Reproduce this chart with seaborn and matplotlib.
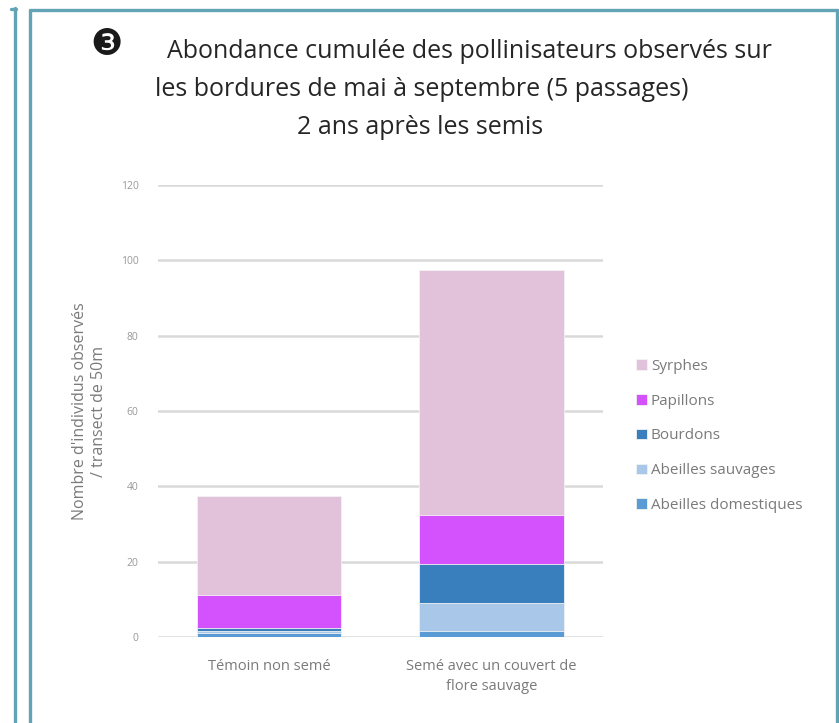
import matplotlib
matplotlib.use("Agg")
import matplotlib.pyplot as plt
import numpy as np
import pandas as pd
import seaborn as sns
from matplotlib.lines import Line2D

# data
categories = ["Témoin non semé", "Semé avec un couvert de\nflore sauvage"]
groups = ["Abeilles domestiques", "Abeilles sauvages", "Bourdons",
          "Papillons", "Syrphes"]
abeilles_domestiques = [1.0, 1.5]
abeilles_sauvages = [0.5, 7.5]
bourdons = [1.0, 10.5]
papillons = [8.6, 13.0]
syrphes = [26.4, 65.0]
colors = ["#5b9bd5", "#a9c8e9", "#3a7fbd", "#d452fe", "#e1c2da"]
title_lines = ["Abondance cumulée des pollinisateurs observés sur",
               "les bordures de mai à septembre (5 passages)",
               "2 ans après les semis"]

sns.set_theme(style="white")
plt.rcParams["font.family"] = ["Open Sans", "DejaVu Sans"]

df = pd.DataFrame(
    {
        "categorie": categories,
        groups[0]: abeilles_domestiques,
        groups[1]: abeilles_sauvages,
        groups[2]: bourdons,
        groups[3]: papillons,
        groups[4]: syrphes,
    }
)
# cumulative heights, drawn from the top series down so they stack
cum = df[groups].cumsum(axis=1)
cum["categorie"] = df["categorie"]

W, H = 839, 723
fig = plt.figure(figsize=(W / 100, H / 100), dpi=100)
ax = fig.add_axes([0.1883, 0.1189, 0.530, 0.625])

for grp, col in reversed(list(zip(groups, colors))):
    sns.barplot(data=cum, x="categorie", y=grp, color=col, width=0.65,
                saturation=1, ax=ax, label=grp, zorder=3,
                edgecolor="#f2f2f2", linewidth=0.6)

ax.set_ylim(0, 120)
ax.set_xlim(-0.5, 1.5)
ax.set_yticks(np.arange(0, 121, 20))
ax.yaxis.grid(True, color="#d9d9d9", linewidth=1.8, zorder=0)
ax.set_axisbelow(True)
for s in ax.spines.values():
    s.set_visible(False)
ax.tick_params(axis="y", labelsize=7.5, labelcolor="#999999", length=0, pad=14)
ax.tick_params(axis="x", labelsize=10.5, labelcolor="#7a7a7a", length=0, pad=16)
for lbl in ax.get_xticklabels():
    lbl.set_linespacing(1.45)
ax.set_xlabel("")
ax.set_ylabel("Nombre d'individus observés\n/ transect de 50m", fontsize=11.5,
              color="#7a7a7a", labelpad=10, linespacing=1.25)

handles, labels = ax.get_legend_handles_labels()
leg = ax.legend(handles, labels, loc="center left", bbox_to_anchor=(1.045, 0.445),
                frameon=False, fontsize=11, labelspacing=1.3,
                handlelength=0.7, handleheight=0.7, handletextpad=0.25)
for t in leg.get_texts():
    t.set_color("#7a7a7a")


def px(x, y):
    return x / W, 1 - y / H


# title block
fig.text(*px(107, 45), "❸", ha="center", va="center", fontsize=26,
         color="#1a1a1a", family=["DejaVu Sans"])
for (cx, cy), line in zip([(469, 52), (422, 90), (420, 127)], title_lines):
    fig.text(*px(cx, cy), line, ha="center", va="center", fontsize=18,
             color="#262626")

# teal frame lines
frame = "#62a3b5"
for (x0, y0), (x1, y1) in [((15, 8), (15, 723)), ((11, 9), (16, 9)),
                           ((30, 10), (837, 10)), ((30, 10), (30, 723)),
                           ((837, 10), (837, 723))]:
    a, b = px(x0, y0)
    c, d = px(x1, y1)
    fig.add_artist(Line2D([a, c], [b, d], color=frame, linewidth=2.4,
                          transform=fig.transFigure))

fig.savefig("out.png", dpi=100)
